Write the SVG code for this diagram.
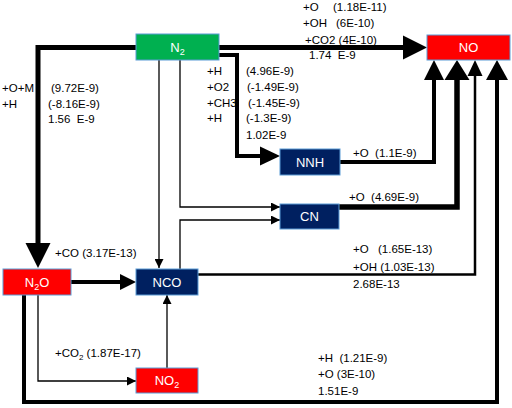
<svg xmlns="http://www.w3.org/2000/svg" width="512" height="408" viewBox="0 0 512 408">
<style>
.bg{fill:#fff}
.node rect{stroke:#5b9bd5;stroke-width:1}
.g rect{fill:#00b050}
.r rect{fill:#ff0000}
.b rect{fill:#002060}
.node text{fill:#fff;font-family:"Liberation Sans",Arial,sans-serif;font-size:13px;text-anchor:middle}
.lbl text{fill:#000;font-family:"Liberation Sans",Arial,sans-serif;font-size:11.5px;white-space:pre}
.thick{fill:none;stroke:#000;stroke-linejoin:miter}
.thin{fill:none;stroke:#000;stroke-width:1.3}
.head{fill:#000}
</style>
<defs>
<marker id="ah" markerUnits="userSpaceOnUse" markerWidth="9" markerHeight="9" viewBox="0 0 9 9" refX="9" refY="4.5" orient="auto">
<path d="M0,0 L9,4.5 L0,9 Z" fill="#000"/>
</marker>
</defs>
<rect class="bg" x="0" y="0" width="512" height="408"/>
<g id="connectors">
<path class="thick" stroke-width="5" d="M219,47.5 H404"/>
<polygon class="head" points="403,35.5 427,47.5 403,59.5"/>
<path class="thick" stroke-width="5" d="M136,47.5 H38 V244"/>
<polygon class="head" points="25.5,243 50.5,243 38,268"/>
<path class="thick" stroke-width="4" d="M219,55 H237 V156 H261"/>
<polygon class="head" points="260,146.5 280,156 260,165.5"/>
<path class="thin" d="M159,60 V268" marker-end="url(#ah)"/>
<path class="thin" d="M180,60 V207 H280" marker-end="url(#ah)"/>
<path class="thin" d="M180,269 V220 H280" marker-end="url(#ah)"/>
<path class="thick" stroke-width="4" d="M71,282 H121"/>
<polygon class="head" points="120,274 136,282 120,290"/>
<path class="thin" d="M38,295 V381 H136" marker-end="url(#ah)"/>
<path class="thin" d="M167,368 V295" marker-end="url(#ah)"/>
<path class="thick" stroke-width="4" d="M340,162 H434 V79"/>
<polygon class="head" points="424,80 434,60 444,80"/>
<path class="thick" stroke-width="5.5" d="M339,207 H457 V79"/>
<polygon class="head" points="444.5,80 457,60 469.5,80"/>
<path class="thick" stroke-width="2.5" d="M198,274.5 H475 V75"/>
<polygon class="head" points="467.5,76 475,60 482.5,76"/>
<path class="thick" stroke-width="4" d="M24,295 V402 H497 V79"/>
<polygon class="head" points="486,80 497,60 508,80"/>
</g>
<g id="N2" class="node g"><rect x="136" y="34" width="83" height="26"/><text x="177.5" y="52">N<tspan font-size="9" dy="3">2</tspan></text></g>
<g id="NO" class="node r"><rect x="427" y="35" width="83" height="25"/><text x="468.5" y="52">NO</text></g>
<g id="NNH" class="node b"><rect x="280" y="149" width="60" height="26"/><text x="310" y="167">NNH</text></g>
<g id="CN" class="node b"><rect x="280" y="204" width="59" height="25"/><text x="309.5" y="221">CN</text></g>
<g id="NCO" class="node b"><rect x="136" y="269" width="62" height="26"/><text x="167" y="287">NCO</text></g>
<g id="N2O" class="node r"><rect x="3" y="269" width="68" height="26"/><text x="37" y="287">N<tspan font-size="9" dy="3">2</tspan><tspan dy="-3">O</tspan></text></g>
<g id="NO2" class="node r"><rect x="136" y="368" width="62" height="25"/><text x="167" y="385">NO<tspan font-size="9" dy="3">2</tspan></text></g>
<g id="labels" class="lbl">
<text x="303" y="11">+O</text><text x="333" y="11">(1.18E-11)</text>
<text x="303" y="27">+OH</text><text x="336" y="27">(6E-10)</text>
<text x="305" y="44">+CO2 (4E-10)</text>
<text x="309" y="59">1.74  E-9</text>
<text x="2" y="92">+O+M</text><text x="51" y="92">(9.72E-9)</text>
<text x="2" y="108">+H</text><text x="48" y="108">(-8.16E-9)</text>
<text x="48" y="123">1.56  E-9</text>
<text x="207" y="75">+H</text><text x="246" y="75">(4.96E-9)</text>
<text x="207" y="91">+O2</text><text x="247" y="91">(-1.49E-9)</text>
<text x="207" y="107">+CH3</text><text x="248" y="107">(-1.45E-9)</text>
<text x="207" y="122">+H</text><text x="246" y="122">(-1.3E-9)</text>
<text x="246" y="139">1.02E-9</text>
<text x="353" y="157">+O  (1.1E-9)</text>
<text x="349" y="201">+O  (4.69E-9)</text>
<text x="353" y="253">+O</text><text x="378" y="253">(1.65E-13)</text>
<text x="353" y="271">+OH (1.03E-13)</text>
<text x="353" y="288">2.68E-13</text>
<text x="55" y="257">+CO (3.17E-13)</text>
<text x="55" y="357">+CO<tspan font-size="8" dy="3">2</tspan><tspan dy="-3"> (1.87E-17)</tspan></text>
<text x="318" y="362">+H  (1.21E-9)</text>
<text x="318" y="378">+O (3E-10)</text>
<text x="318" y="395">1.51E-9</text>
</g>
</svg>
